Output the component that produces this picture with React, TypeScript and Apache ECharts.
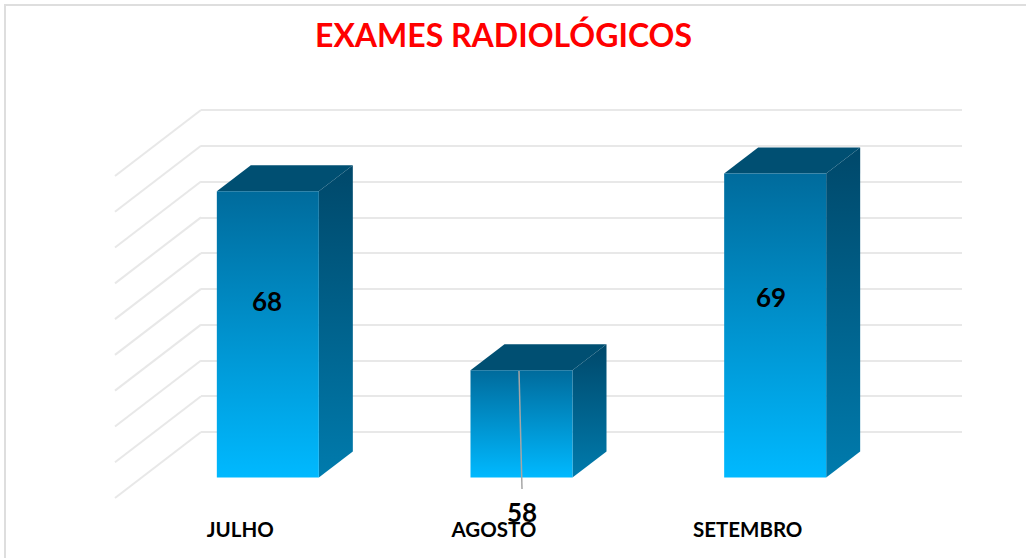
import React, { useEffect, useRef } from "react";
import * as echarts from "echarts";

const titleText = "EXAMES RADIOLÓGICOS";
const categories = ["JULHO", "AGOSTO", "SETEMBRO"];
const barValues = [68, 58, 69];
const gridTicks = [52, 54, 56, 58, 60, 62, 64, 66, 68, 70];
const axisMin = 52;
const axisMax = 70;
const axisStep = 2;

// layout constants (not data)
const FONT = "Lato, 'Open Sans', sans-serif";
const WALL_DX = 86;
const WALL_DY = 66;
const FRONT_DX = -60;
const FRONT_DY = 45.5;
const HALF_W = 51;
const DEPTH_X = 34;
const DEPTH_Y = 26;
const labelSpots = [
  { x: 267, y: 301 },
  { x: 522, y: 512 },
  { x: 771, y: 297 },
];
const leader = { index: 1, x1: 519, y1: 371, x2: 522, y2: 489 };

const vGrad = (top: string, bottom: string) =>
  new echarts.graphic.LinearGradient(0, 0, 0, 1, [
    { offset: 0, color: top },
    { offset: 1, color: bottom },
  ]);

function renderBar(params: any, api: any) {
  const i = api.value(0);
  const v = api.value(1);
  const top = api.coord([i, v]);
  const base = api.coord([i, axisMin]);
  const cx = top[0] + FRONT_DX;
  const yt = top[1] + FRONT_DY;
  const yb = base[1] + FRONT_DY;
  const l = cx - HALF_W;
  const r = cx + HALF_W;
  const children: any[] = [
    {
      type: "polygon",
      shape: { points: [[r, yt], [r + DEPTH_X, yt - DEPTH_Y], [r + DEPTH_X, yb - DEPTH_Y], [r, yb]] },
      style: { fill: vGrad("#00486a", "#007bad") },
    },
    {
      type: "polygon",
      shape: { points: [[l, yt], [l + DEPTH_X, yt - DEPTH_Y], [r + DEPTH_X, yt - DEPTH_Y], [r, yt]] },
      style: { fill: "#004f72" },
    },
    {
      type: "rect",
      shape: { x: l, y: yt, width: r - l, height: yb - yt },
      style: { fill: vGrad("#006b9c", "#00b9ff") },
    },
  ];
  if (i === leader.index) {
    children.push({
      type: "line",
      shape: { x1: leader.x1, y1: leader.y1, x2: leader.x2, y2: leader.y2 },
      style: { stroke: "#a6a6a6", lineWidth: 1.5 },
    });
  }
  children.push({
    type: "text",
    style: {
      text: String(v),
      x: labelSpots[i].x,
      y: labelSpots[i].y,
      textAlign: "center",
      textVerticalAlign: "middle",
      font: `bold 26px ${FONT}`,
      fill: "#000000",
    },
  });
  return { type: "group", children };
}

function renderWall(params: any, api: any) {
  const p = api.coord([0, api.value(1)]);
  const x = params.coordSys.x;
  return {
    type: "line",
    shape: { x1: x, y1: p[1], x2: x - WALL_DX, y2: p[1] + WALL_DY },
    style: { stroke: "#e8e8e8", lineWidth: 2 },
  };
}

export default function App() {
  const ref = useRef<HTMLDivElement>(null);
  useEffect(() => {
    document.body.style.margin = "0";
    const chart = echarts.init(ref.current!, null, { renderer: "svg" });
    chart.setOption({
      animation: false,
      backgroundColor: "#ffffff",
      title: {
        text: titleText,
        left: 498.5,
        top: 13,
        textAlign: "center",
        textStyle: { color: "#ff0000", fontFamily: FONT, fontWeight: "bold", fontSize: 32 },
      },
      grid: [
        { left: 201, top: 110, width: 761, height: 322 },
        { left: 113.5, top: 176, width: 761, height: 322 },
      ],
      xAxis: [
        { type: "category", gridIndex: 0, data: categories, axisLine: { show: false }, axisTick: { show: false }, axisLabel: { show: false }, splitLine: { show: false } },
        {
          type: "category",
          gridIndex: 1,
          data: categories,
          axisLine: { show: false },
          axisTick: { show: false },
          splitLine: { show: false },
          axisLabel: { color: "#000000", fontFamily: FONT, fontWeight: "bold", fontSize: 20.5, margin: 20 },
        },
      ],
      yAxis: [
        {
          type: "value",
          gridIndex: 0,
          min: axisMin,
          max: axisMax,
          interval: axisStep,
          axisLine: { show: false },
          axisTick: { show: false },
          axisLabel: { show: false },
          splitLine: { show: true, lineStyle: { color: "#e8e8e8", width: 2 } },
        },
        {
          type: "value",
          gridIndex: 1,
          min: axisMin,
          max: axisMax,
          interval: axisStep,
          axisLine: { show: false },
          axisTick: { show: false },
          axisLabel: { show: false },
          splitLine: { show: false },
        },
      ],
      series: [
        {
          type: "custom",
          name: "wall",
          xAxisIndex: 0,
          yAxisIndex: 0,
          renderItem: renderWall,
          encode: { x: 0, y: 1 },
          data: gridTicks.map((t) => [0, t]),
          silent: true,
          z: 1,
        },
        {
          type: "custom",
          name: "bars",
          xAxisIndex: 0,
          yAxisIndex: 0,
          renderItem: renderBar,
          encode: { x: 0, y: 1 },
          data: barValues.map((v, i) => [i, v]),
          z: 5,
        },
      ],
      graphic: [
        { type: "line", shape: { x1: 4, y1: 5, x2: 1026, y2: 5 }, style: { stroke: "#dedede", lineWidth: 2 } },
        { type: "line", shape: { x1: 5, y1: 4, x2: 5, y2: 558 }, style: { stroke: "#dedede", lineWidth: 2 } },
      ],
    });
    return () => chart.dispose();
  }, []);
  return <div ref={ref} style={{ width: 1026, height: 558 }} />;
}
